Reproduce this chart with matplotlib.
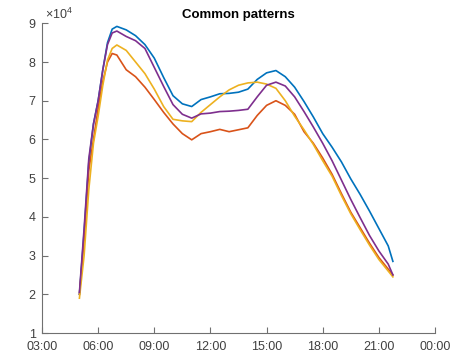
import matplotlib
matplotlib.use("Agg")
import matplotlib.pyplot as plt
from matplotlib.ticker import FixedLocator

plt.rcParams['font.family'] = ['Liberation Sans', 'DejaVu Sans']
plt.rcParams['mathtext.fontset'] = 'custom'
plt.rcParams['mathtext.rm'] = 'Liberation Sans'
plt.rcParams['mathtext.it'] = 'Liberation Sans'

# time of day in hours
hours = [5.0, 5.25, 5.5, 5.75, 6.0, 6.25, 6.5, 6.75, 7.0, 7.5, 8.0, 8.5, 9.0, 9.5,
         10.0, 10.5, 11.0, 11.5, 12.0, 12.5, 13.0, 13.5, 14.0, 14.5, 15.0, 15.5,
         16.0, 16.5, 17.0, 17.5, 18.0, 18.5, 19.0, 19.5, 20.0, 20.5, 21.0, 21.5, 21.75]

# values in units of 1e4
blue = [2.0, 3.6, 5.4, 6.4, 7.0, 7.8, 8.5, 8.85, 8.92, 8.83, 8.68, 8.45, 8.1, 7.6,
        7.13, 6.92, 6.85, 7.03, 7.1, 7.18, 7.19, 7.22, 7.3, 7.55, 7.72, 7.78,
        7.62, 7.35, 6.98, 6.58, 6.15, 5.8, 5.42, 4.98, 4.58, 4.15, 3.7, 3.25, 2.85]
red = [2.0, 3.4, 5.2, 6.0, 6.8, 7.5, 8.0, 8.22, 8.18, 7.8, 7.62, 7.35, 7.03, 6.7,
       6.4, 6.15, 5.99, 6.15, 6.2, 6.26, 6.2, 6.25, 6.3, 6.62, 6.88, 7.0,
       6.88, 6.65, 6.2, 5.9, 5.52, 5.1, 4.6, 4.12, 3.72, 3.32, 2.95, 2.65, 2.5]
yellow = [1.9, 3.0, 4.7, 5.9, 6.6, 7.4, 8.05, 8.35, 8.44, 8.3, 8.0, 7.7, 7.3, 6.85,
          6.52, 6.48, 6.46, 6.7, 6.9, 7.1, 7.28, 7.4, 7.46, 7.48, 7.43, 7.32,
          7.0, 6.6, 6.25, 5.87, 5.45, 5.05, 4.55, 4.08, 3.67, 3.27, 2.9, 2.6, 2.45]
purple = [2.05, 3.7, 5.5, 6.4, 7.0, 7.8, 8.45, 8.75, 8.8, 8.66, 8.55, 8.35, 7.86, 7.37,
          6.9, 6.65, 6.55, 6.66, 6.68, 6.72, 6.73, 6.75, 6.78, 7.1, 7.4, 7.48,
          7.38, 7.1, 6.72, 6.32, 5.9, 5.45, 4.95, 4.45, 3.98, 3.52, 3.12, 2.78, 2.5]

xticks = [3, 6, 9, 12, 15, 18, 21, 24]
xticklabels = ['03:00', '06:00', '09:00', '12:00', '15:00', '18:00', '21:00', '00:00']
yticks = [1, 2, 3, 4, 5, 6, 7, 8, 9]

fig = plt.figure(figsize=(4.54, 3.55), dpi=100)
ax = fig.add_axes([42/454, 1-333/355, (435-42)/454, (333-23.3)/355])

series = [(blue, '#0072BD'), (red, '#D95319'), (yellow, '#EDB120'), (purple, '#7E2F8E')]
for vals, c in series:
    ax.plot(hours, vals, color=c, lw=1.2)

ax.set_xlim(3, 24)
ax.set_ylim(1, 9)
ax.xaxis.set_major_locator(FixedLocator(xticks))
ax.set_xticklabels(xticklabels)
ax.yaxis.set_major_locator(FixedLocator(yticks))
ax.set_yticklabels([str(v) for v in yticks])

gray = '#404040'
for s in ['top', 'right']:
    ax.spines[s].set_visible(False)
for s in ['left', 'bottom']:
    ax.spines[s].set_color('#707070')
    ax.spines[s].set_linewidth(0.8)
ax.tick_params(direction='in', length=4, width=0.8, color='#707070',
               labelcolor=gray, labelsize=9)
ax.tick_params(axis='y', pad=4.5)
ax.tick_params(axis='x', pad=6)

ax.set_title('Common patterns', fontsize=9.5, fontweight='bold', pad=4, color='black')
ax.text(0.008, 1.005, r'$\times10^{4}$', transform=ax.transAxes, ha='left', va='bottom',
        fontsize=9, color=gray)

fig.savefig('out.png', dpi=100)
